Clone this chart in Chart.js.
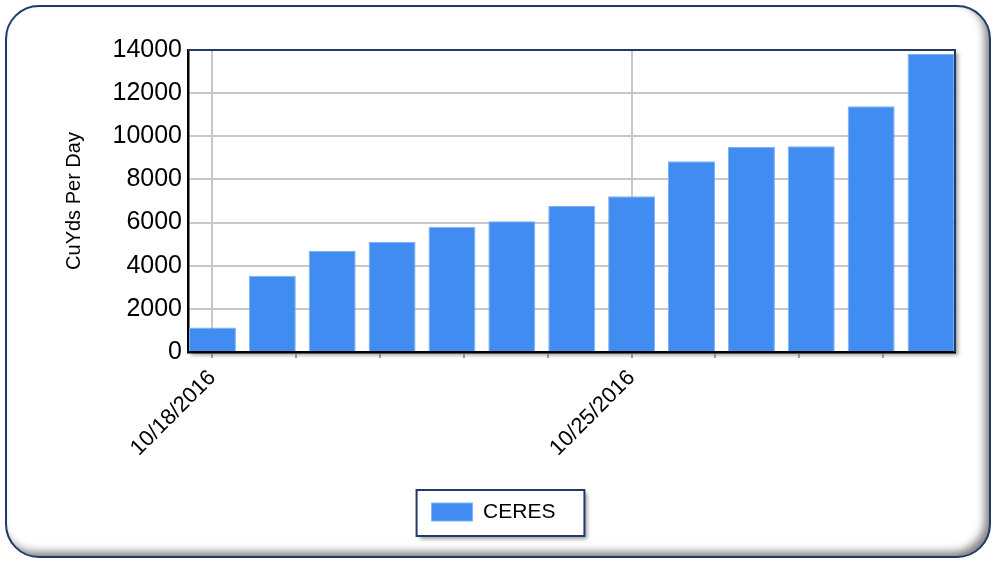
<!DOCTYPE html>
<html>
<head>
<meta charset="utf-8">
<script src="https://cdn.jsdelivr.net/npm/chart.js@4.4.1/dist/chart.umd.min.js"></script>
<style>
html, body { margin: 0; padding: 0; background: #fff; }
#wrap { width: 1003px; height: 562px; }
</style>
</head>
<body>
<div id="wrap"><canvas id="cuydsChart"></canvas></div>
<script>
// data
const dates = ["10/18/2016","10/19/2016","10/20/2016","10/21/2016","10/22/2016","10/23/2016","10/24/2016",
               "10/25/2016","10/26/2016","10/27/2016","10/28/2016","10/29/2016","10/30/2016"];
const values = [1130, 3540, 4680, 5100, 5810, 6060, 6770, 7220, 8840, 9500, 9540, 11390, 13820];
const seriesName = "CERES";
const yTitle = "CuYds Per Day";
const yTicks = [0, 2000, 4000, 6000, 8000, 10000, 12000, 14000];
const xTickDays = [0, 1.4, 2.8, 4.2, 5.6, 7, 8.4, 9.8, 11.2];
const xTickLabels = ["10/18/2016", "", "", "", "", "10/25/2016", "", "", ""];

const DAY = 86400000;
const day0 = Date.parse(dates[0]);
const points = dates.map((d, i) => ({ x: Math.round((Date.parse(d) - day0) / DAY), y: values[i] }));

const FONT = "'Liberation Sans', Arial, sans-serif";
const NAVY = "#1f3c68";

function roundRectPath(ctx, x, y, w, h, r) {
  ctx.moveTo(x + r, y);
  ctx.lineTo(x + w - r, y);
  ctx.arcTo(x + w, y, x + w, y + r, r);
  ctx.lineTo(x + w, y + h - r);
  ctx.arcTo(x + w, y + h, x + w - r, y + h, r);
  ctx.lineTo(x + r, y + h);
  ctx.arcTo(x, y + h, x, y + h - r, r);
  ctx.lineTo(x, y + r);
  ctx.arcTo(x, y, x + r, y, r);
  ctx.closePath();
}

// frame, plot box and legend box behind everything
const framePlugin = {
  id: "frame",
  beforeDraw(chart) {
    const ctx = chart.ctx;
    const a = chart.chartArea;
    ctx.save();
    // outer rounded panel with inner shadow on right / bottom
    ctx.beginPath();
    roundRectPath(ctx, 6, 6, 984, 551, 33);
    ctx.fillStyle = "#fff";
    ctx.fill();
    ctx.save();
    ctx.beginPath();
    roundRectPath(ctx, 6, 6, 984, 551, 33);
    ctx.clip();
    ctx.shadowColor = "rgba(0,0,0,0.5)";
    ctx.shadowBlur = 9;
    ctx.shadowOffsetX = -5;
    ctx.shadowOffsetY = -5;
    ctx.beginPath();
    ctx.rect(-50, -50, 1200, 700);
    roundRectPath(ctx, 6, 6, 984, 551, 33);
    ctx.fillStyle = "#fff";
    ctx.fill("evenodd");
    ctx.restore();
    ctx.beginPath();
    roundRectPath(ctx, 6, 6, 984, 551, 33);
    ctx.lineWidth = 2;
    ctx.strokeStyle = NAVY;
    ctx.stroke();

    // plot area with drop shadow
    ctx.shadowColor = "rgba(0,0,0,0.4)";
    ctx.shadowBlur = 4;
    ctx.shadowOffsetX = 3;
    ctx.shadowOffsetY = 3;
    ctx.fillStyle = "#fff";
    ctx.fillRect(a.left, a.top, a.right - a.left, a.bottom - a.top);

    // legend box
    const hb = chart.legend.legendHitBoxes[0];
    if (hb) {
      const bx = hb.left - 15, by = hb.top - 11.5, bw = hb.width + 44, bh = 46;
      ctx.fillRect(bx, by, bw, bh);
      ctx.shadowColor = "transparent";
      ctx.lineWidth = 2;
      ctx.strokeStyle = NAVY;
      ctx.strokeRect(bx, by, bw, bh);
    }
    ctx.restore();
  },
  afterDatasetsDraw(chart) {
    const ctx = chart.ctx;
    const a = chart.chartArea;
    ctx.save();
    ctx.lineWidth = 2;
    ctx.strokeStyle = NAVY;
    ctx.beginPath();
    ctx.moveTo(a.left, a.top);
    ctx.lineTo(a.right, a.top);
    ctx.lineTo(a.right, a.bottom);
    ctx.stroke();
    ctx.restore();
  }
};

new Chart(document.getElementById("cuydsChart"), {
  type: "bar",
  data: {
    datasets: [{
      label: seriesName,
      data: points,
      backgroundColor: "#418cf0",
      borderColor: "#7fb2f5",
      borderWidth: 1,
      categoryPercentage: 1,
      barPercentage: 0.785
    }]
  },
  options: {
    responsive: true,
    maintainAspectRatio: false,
    animation: false,
    layout: { padding: { left: 32, right: 48, top: 50, bottom: 29.5 } },
    plugins: {
      tooltip: { enabled: false },
      legend: {
        position: "bottom",
        onClick: null,
        labels: {
          boxWidth: 41,
          boxHeight: 18,
          padding: 10,
          color: "#000",
          font: { family: FONT, size: 21 }
        }
      }
    },
    scales: {
      x: {
        type: "linear",
        min: -0.408,
        max: 12.4,
        offset: false,
        afterBuildTicks(scale) { scale.ticks = xTickDays.map(v => ({ value: v })); },
        afterFit(scale) { scale.height = 139.5; },
        grid: {
          offset: false,
          color: (c) => (c.tick && xTickLabels[c.index]) ? "#c8c8c8" : "rgba(0,0,0,0)",
          lineWidth: 2,
          tickColor: "#808080",
          tickLength: 6,
          tickWidth: 1.5
        },
        border: { color: "#000", width: 2.5 },
        ticks: {
          autoSkip: false,
          minRotation: 45,
          maxRotation: 45,
          padding: 7,
          color: "#000",
          font: { family: FONT, size: 22 },
          callback: (v, i) => xTickLabels[i]
        }
      },
      y: {
        min: 0,
        max: 14000,
        afterBuildTicks(scale) { scale.ticks = yTicks.map(v => ({ value: v })); },
        afterFit(scale) { scale.width = 156; },
        title: {
          display: true,
          text: yTitle,
          color: "#000",
          padding: { top: 30, bottom: 0 },
          font: { family: FONT, size: 20 }
        },
        grid: { color: "#c8c8c8", lineWidth: 2, drawTicks: false },
        border: { color: "#000", width: 2.5 },
        ticks: {
          padding: 6,
          color: "#000",
          font: { family: FONT, size: 25 },
          callback: (v) => String(v)
        }
      }
    }
  },
  plugins: [framePlugin]
});
</script>
</body>
</html>
